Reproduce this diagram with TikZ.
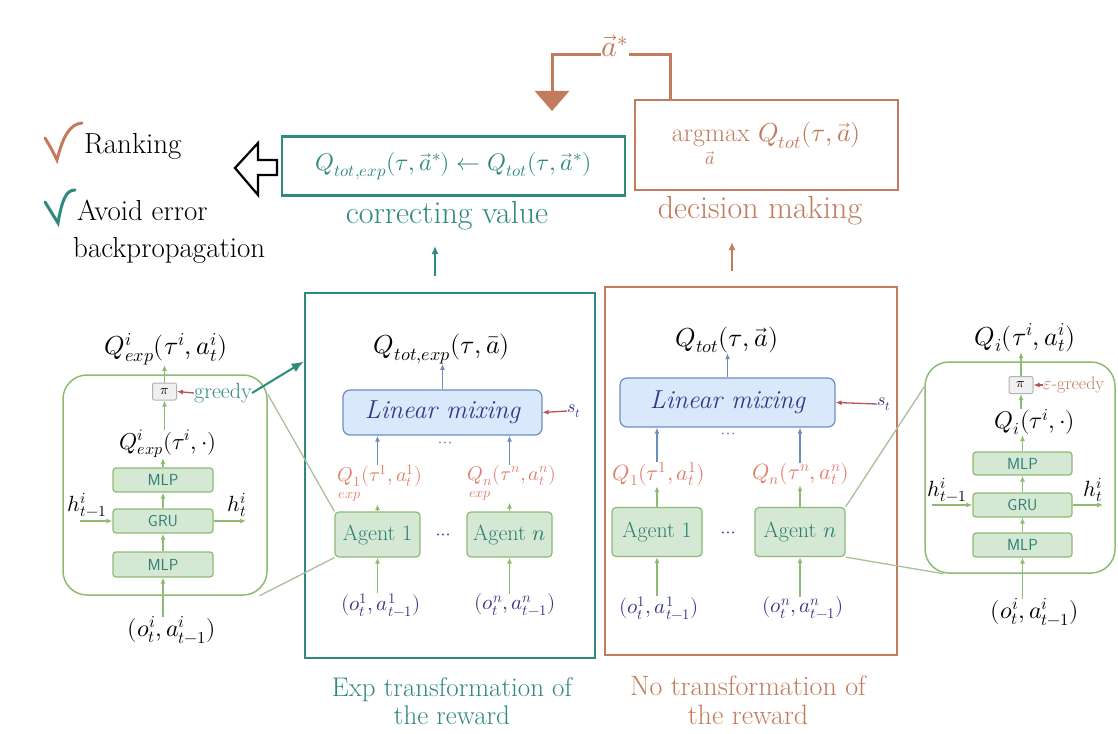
\documentclass[tikz,border=0pt]{standalone}
\usepackage{amsmath}
\usepackage{fontspec}
\usepackage{unicode-math}
\setmathfont{Latin Modern Math}
\usetikzlibrary{arrows.meta,calc}
\definecolor{teal1}{HTML}{2F8A7E}
\definecolor{rust}{HTML}{C27B5C}
\definecolor{salmon}{HTML}{E37E6C}
\definecolor{navy}{HTML}{3A3487}
\definecolor{gfill}{HTML}{D5E8D4}
\definecolor{gdraw}{HTML}{8DBB72}
\definecolor{bfill}{HTML}{DAE8FC}
\definecolor{bdraw}{HTML}{6C8EBF}
\definecolor{dred}{HTML}{B85450}
\definecolor{gtext}{HTML}{2D7F74}
\definecolor{zoomc}{HTML}{A9C09C}
\newcommand{\fsz}[1]{\fontsize{#1}{#1}\selectfont}
\begin{document}
\begin{tikzpicture}[x=1pt,y=-1pt,
  every node/.style={inner sep=0pt},
  gbox/.style={draw=gdraw,fill=gfill,rounded corners=4pt,line width=1.2pt,text=gtext,font=\fsz{22}},
  lbox/.style={draw=gdraw,fill=gfill,rounded corners=3pt,line width=1.2pt,text=gtext,font=\fsz{16}\sffamily},
  bbox/.style={draw=bdraw,fill=bfill,rounded corners=7pt,line width=1.2pt,text=navy,font=\fsz{26}\itshape},
  pibox/.style={draw=gray!60,fill=gray!12,rounded corners=2pt,line width=1pt,font=\fsz{14},minimum width=24,minimum height=17},
  detbox/.style={draw=gdraw,rounded corners=24pt,line width=1.5pt},
  garrow/.style={draw=gdraw,line width=1.3pt,-{Latex[length=6pt,width=5pt]}},
  barrow/.style={draw=bdraw,line width=1.3pt,-{Latex[length=6pt,width=5pt]}},
  rarrow/.style={draw=dred,line width=1.3pt,-{Latex[length=6pt,width=5pt]}},
  zline/.style={draw=zoomc,line width=1.3pt},
  bigteal/.style={draw=teal1,line width=2.6pt},
  bigrust/.style={draw=rust,line width=2.6pt},
]
\useasboundingbox[fill=white] (0,0) rectangle (1118,733);

% ---------- left annotations ----------
\draw[rust,line width=3pt,line cap=round] (45,138) .. controls (51,148) .. (57,160) .. controls (63,136) and (70,124) .. (82,123);
\node[font=\fsz{29},anchor=west] (rank) at (84,146) {Ranking};
\draw[teal1,line width=3pt,line cap=round] (45,202) .. controls (51,212) .. (58,223) .. controls (62,200) and (66,190) .. (75,190);
\node[font=\fsz{29},anchor=west] (avoid) at (77,210) {Avoid error};
\node[font=\fsz{29},anchor=west] (backp) at (73,250) {backpropagation};
\draw[line width=2.2pt,fill=white,line join=miter] (277,160) -- (258,160) -- (258,143) -- (235,168) -- (258,195) -- (258,175) -- (277,175) -- cycle;

% ---------- top boxes ----------
\node[bigteal,minimum width=343,minimum height=59,text=teal1,font=\fsz{24}] (corr) at (453.5,166)
  {$Q_{tot,exp}(\tau,\vec a^{*})\leftarrow Q_{tot}(\tau,\vec a^{*})$};
\node[text=teal1,font=\fsz{32}] (corrlab) at (447,216) {correcting value};
\node[bigrust,minimum width=263,minimum height=90,text=rust,font=\fsz{26}] (dec) at (766.5,145)
  {$\displaystyle\operatorname*{argmax}_{\vec a}\,Q_{tot}(\tau,\vec a)$};
\node[text=rust,font=\fsz{32}] (declab) at (760,211) {decision making};
\node[text=rust,font=\fsz{30},anchor=base] (astar) at (615,57) {$\vec a^{*}$};
\coordinate (dtop) at ($(dec.north west)!0.14!(dec.north east)$);
\coordinate (afoot) at (552,111);
\draw[rust,line width=3pt] (dtop) |- (astar.mid east);
\draw[rust,line width=3pt,-{Triangle[length=20pt,width=34pt]}] (astar.mid west) -| (afoot);

\coordinate (expup) at (435,276);
\coordinate (corrin) at (435,246);
\draw[teal1,line width=2pt,-{Latex[length=8pt,width=7pt]}] (expup) -- (corrin);
\coordinate (noup) at (732,271);
\coordinate (decin) at (732,242);
\draw[rust,line width=2pt,-{Latex[length=8pt,width=7pt]}] (noup) -- (decin);

% ---------- Exp box ----------
\node[bigteal,minimum width=290,minimum height=365] (expbox) at (450,475.5) {};
\node[text=teal1,align=center,font=\fontsize{27}{28}\selectfont] (explab) at (452,701) {Exp transformation of\\the reward};
\node[font=\fsz{26}] (qte) at (442,349) {$Q_{tot,exp}(\tau,\bar a)$};
\node[bbox,minimum width=199,minimum height=45] (lme) at (442.5,412.5) {Linear mixing};
\node[text=navy,font=\fsz{18}] (ste) at (574,411) {$s_t$};
\node[text=bdraw,font=\fsz{18}] (dotse) at (445,445) {$\cdots$};
\node[text=salmon,font=\fsz{20},anchor=north] (q1e) at (380,465) {$\underset{exp}{Q_{1}}(\tau^1,a_t^1)$};
\node[text=salmon,font=\fsz{20},anchor=north] (qne) at (512,465) {$\underset{exp}{Q_{n}}(\tau^n,a_t^n)$};
\node[gbox,minimum width=85,minimum height=45] (a1e) at (377.5,534.5) {Agent 1};
\node[gbox,minimum width=85,minimum height=45] (ane) at (509.5,534.5) {Agent $n$};
\node[text=navy,font=\fsz{18}] (dotsae) at (443,537) {$\cdots$};
\node[text=navy,font=\fsz{21}] (o1e) at (381,605) {$(o_t^1,a_{t-1}^1)$};
\node[text=navy,font=\fsz{21}] (one) at (515,605) {$(o_t^n,a_{t-1}^n)$};
\draw[barrow] (lme.north) -- (lme.north |- qte.south);
\draw[rarrow] (ste.west) -- (lme.east);
\draw[barrow] (a1e.north |- q1e.north) -- (a1e.north |- lme.south);
\draw[barrow] (ane.north |- qne.north) -- (ane.north |- lme.south);
\draw[garrow] (a1e.north) -- (a1e.north |- q1e.south);
\draw[garrow] (ane.north) -- (ane.north |- qne.south);
\draw[garrow] (a1e.south |- o1e.north) -- (a1e.south);
\draw[garrow] (ane.south |- one.north) -- (ane.south);

% ---------- No-transformation box ----------
\node[bigrust,minimum width=292,minimum height=368] (nobox) at (751,471) {};
\node[text=rust,align=center,font=\fontsize{28}{29}\selectfont] (nolab) at (748,700) {No transformation of\\the reward};
\node[font=\fsz{26}] (qt) at (727,340) {$Q_{tot}(\tau,\vec a)$};
\node[bbox,minimum width=215,minimum height=49] (lmo) at (727.5,402.5) {Linear mixing};
\node[text=navy,font=\fsz{18}] (sto) at (884,404) {$s_t$};
\node[text=bdraw,font=\fsz{18}] (dotso) at (728,436) {$\cdots$};
\node[text=salmon,font=\fsz{22}] (q1o) at (659,474) {$Q_1(\tau^1,a_t^1)$};
\node[text=salmon,font=\fsz{22}] (qno) at (801,474) {$Q_n(\tau^n,a_t^n)$};
\node[gbox,minimum width=90,minimum height=49] (a1o) at (657,532) {Agent 1};
\node[gbox,minimum width=90,minimum height=49] (ano) at (800,532) {Agent $n$};
\node[text=navy,font=\fsz{18}] (dotsao) at (728,535) {$\cdots$};
\node[text=navy,font=\fsz{21}] (o1o) at (659,608) {$(o_t^1,a_{t-1}^1)$};
\node[text=navy,font=\fsz{21}] (ono) at (803,608) {$(o_t^n,a_{t-1}^n)$};
\draw[barrow] (lmo.north) -- (lmo.north |- qt.south);
\draw[rarrow] (sto.west) -- (lmo.east);
\draw[barrow] (a1o.north |- q1o.north) -- (a1o.north |- lmo.south);
\draw[barrow] (ano.north |- qno.north) -- (ano.north |- lmo.south);
\draw[garrow] (a1o.north) -- (a1o.north |- q1o.south);
\draw[garrow] (ano.north) -- (ano.north |- qno.south);
\draw[garrow] (a1o.south |- o1o.north) -- (a1o.south);
\draw[garrow] (ano.south |- ono.north) -- (ano.south);

% ---------- left detail ----------
\node[detbox,minimum width=204,minimum height=220] (ldet) at (165,485) {};
\node[font=\fsz{26}] (qiel) at (166,349) {$Q^{i}_{exp}(\tau^i,a_t^i)$};
\node[pibox] (pil) at (164.5,391.5) {$\pi$};
\node[text=teal1,font=\fsz{22}] (greedy) at (223,393) {greedy};
\node[font=\fsz{23}] (qiedot) at (168,444) {$Q^{i}_{exp}(\tau^i,\cdot)$};
\node[lbox,minimum width=100,minimum height=24] (mlp1l) at (163,480) {MLP};
\node[lbox,minimum width=100,minimum height=24] (grul) at (163,521) {GRU};
\node[lbox,minimum width=100,minimum height=25] (mlp2l) at (163,564.5) {MLP};
\node[font=\fsz{22}] (hinl) at (87,505) {$h_{t-1}^{i}$};
\node[font=\fsz{22}] (houtl) at (237,505) {$h_{t}^{i}$};
\coordinate (hinlc) at (80,521);
\coordinate (houtlc) at (246,521);
\node[font=\fsz{24}] (inl) at (172,630) {$(o_t^i,a_{t-1}^i)$};
\draw[garrow] (mlp2l.south |- inl.north) -- (mlp2l.south);
\draw[garrow] (mlp2l.north) -- (grul.south);
\draw[garrow] (grul.north) -- (mlp1l.south);
\draw[garrow] (mlp1l.north) -- (mlp1l.north |- qiedot.south);
\draw[garrow] (pil.south |- qiedot.north) -- (pil.south);
\draw[garrow] (pil.north) -- (pil.north |- qiel.south);
\draw[garrow] (hinlc) -- (grul.west);
\draw[garrow] (grul.east) -- (houtlc);
\draw[rarrow] (greedy.west) -- (pil.east);
\coordinate (exptgt) at ($(expbox.north west)!0.19!(expbox.south west)$);
\draw[teal1,line width=2pt,-{Latex[length=12pt,width=10pt]}] (greedy.east) -- (exptgt);
\coordinate (lz1) at ($(ldet.north east)!0.09!(ldet.south east)$);
\coordinate (lz2) at ($(ldet.south west)!0.96!(ldet.south east)$);
\draw[zline] (lz1) -- (a1e.north west);
\draw[zline] (lz2) -- (a1e.south west);

% ---------- right detail ----------
\node[detbox,minimum width=190,minimum height=211] (rdet) at (1020,467.5) {};
\node[font=\fsz{26}] (qir) at (1025,338) {$Q_i(\tau^i,a_t^i)$};
\node[pibox] (pir) at (1021,385) {$\pi$};
\node[text=rust,font=\fsz{18},anchor=west] (egreedy) at (1043,385) {$\varepsilon$-greedy};
\node[font=\fsz{24}] (qirdot) at (1035,422) {$Q_i(\tau^i,\cdot)$};
\node[lbox,minimum width=99,minimum height=23] (mlp1r) at (1022.5,463.5) {MLP};
\node[lbox,minimum width=99,minimum height=24] (grur) at (1022.5,505) {GRU};
\node[lbox,minimum width=99,minimum height=24] (mlp2r) at (1022.5,545) {MLP};
\node[font=\fsz{22}] (hinr) at (947,490) {$h_{t-1}^{i}$};
\node[font=\fsz{22}] (houtr) at (1093,490) {$h_{t}^{i}$};
\coordinate (hinrc) at (932,505);
\coordinate (houtrc) at (1103,505);
\node[font=\fsz{24}] (inr) at (1035,612) {$(o_t^i,a_{t-1}^i)$};
\draw[garrow] (mlp2r.south |- inr.north) -- (mlp2r.south);
\draw[garrow] (mlp2r.north) -- (grur.south);
\draw[garrow] (grur.north) -- (mlp1r.south);
\draw[garrow] (mlp1r.north) -- (mlp1r.north |- qirdot.south);
\draw[garrow] (pir.south |- qirdot.north) -- (pir.south);
\draw[garrow] (pir.north) -- (pir.north |- qir.south);
\draw[garrow] (hinrc) -- (grur.west);
\draw[garrow] (grur.east) -- (houtrc);
\draw[rarrow] (egreedy.west) -- (pir.east);
\coordinate (rz1) at ($(rdet.north west)!0.12!(rdet.south west)$);
\coordinate (rz2) at ($(rdet.south west)!0.1!(rdet.south east)$);
\draw[zline] (ano.north east) -- (rz1);
\draw[zline] (ano.south east) -- (rz2);
\end{tikzpicture}
\end{document}
